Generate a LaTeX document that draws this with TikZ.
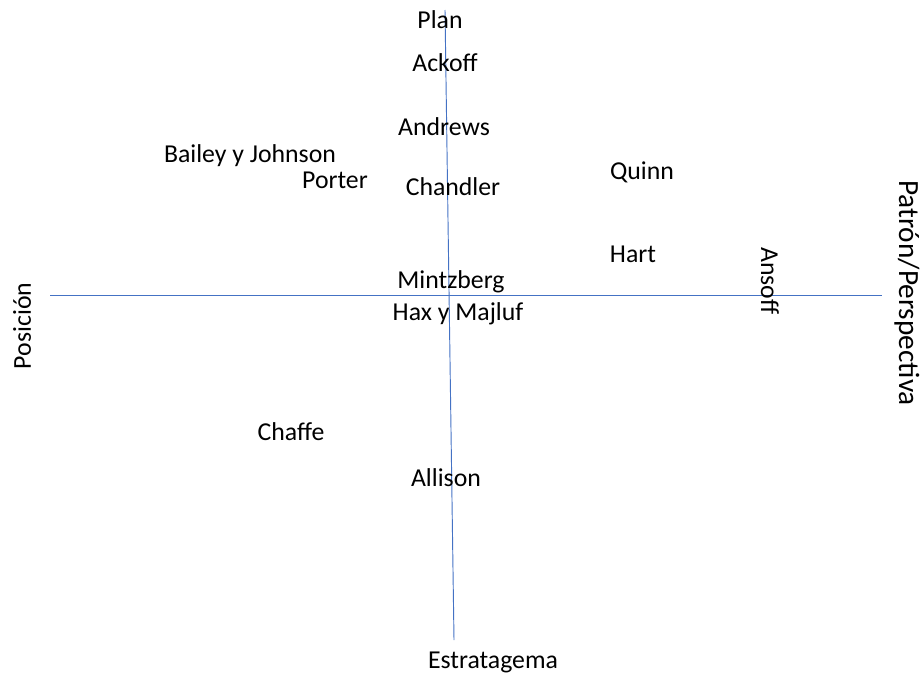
\documentclass[tikz,border=0pt]{standalone}
\usepackage{fontspec}
\setmainfont{Carlito}
\usetikzlibrary{positioning}
\definecolor{axisblue}{RGB}{68,114,196}

\begin{document}
\begin{tikzpicture}[x=0.03cm,y=-0.03cm,
		author/.style={font=\fontsize{22}{26}\selectfont,inner sep=0pt},
		axis/.style={axisblue,line width=0.8pt}]
		
		\useasboundingbox (0,0) rectangle (923,673);
		
		% Axes
		\coordinate (top) at (445,10);
		\coordinate (bottom) at (454,640);
		\coordinate (left) at (50,295);
		\coordinate (right) at (882,295);
		\draw[axis] (top) -- (bottom);
		\draw[axis] (left) -- (right);
		
		% Axis labels
		\node[author] (plan) at (440,20) {Plan};
		\node[author] (estratagema) at (493,662) {Estratagema};
		\node[author,rotate=90] (posicion) at (22,326) {Posición};
		\node[author,rotate=-90,font=\fontsize{25}{30}\selectfont] (patron) at (907,293) {Patrón/Perspectiva};
		
		% Authors
		\node[author] (ackoff) at (445,63) {Ackoff};
		\node[author] (andrews) at (444,127) {Andrews};
		\node[author] (bailey) at (250,156) {Bailey y Johnson};
		\node[author] (porter) at (335,180) {Porter};
		\node[author] (chandler) at (453,187) {Chandler};
		\node[author] (quinn) at (642,172) {Quinn};
		\node[author] (hart) at (633,254) {Hart};
		\node[author] (mintzberg) at (451,282) {Mintzberg};
		\node[author] (hax) at (458,314) {Hax y Majluf};
		\node[author,rotate=-90] (ansoff) at (770,281) {Ansoff};
		\node[author] (chaffe) at (291,432) {Chaffe};
		\node[author] (allison) at (446,478) {Allison};
		
	\end{tikzpicture}
\end{document}
